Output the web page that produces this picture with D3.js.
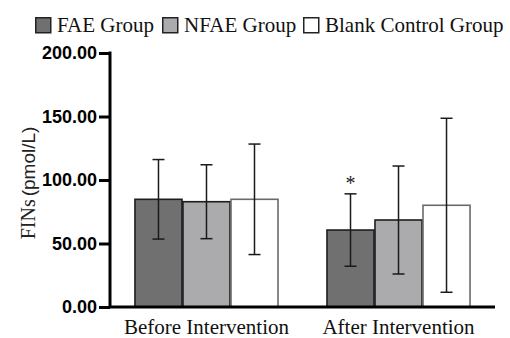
<!DOCTYPE html>
<html>
<head>
<meta charset="utf-8">
<script src="https://cdn.jsdelivr.net/npm/d3@7"></script>
<style>
  html, body { margin: 0; padding: 0; background: #fff; }
  svg { display: block; }
</style>
</head>
<body>
<svg id="chart" width="510" height="338"></svg>
<script>
// Fasting insulin by group, before and after the intervention
const timepoints = ["Before Intervention", "After Intervention"];
const groups = ["FAE Group", "NFAE Group", "Blank Control Group"];
const meanValues = [
  [84.8, 82.9, 84.8],   // Before Intervention
  [60.6, 68.5, 80.1]    // After Intervention
];
const sdValues = [
  [31.3, 29.1, 43.5],
  [28.5, 42.5, 68.5]
];
const yTicks = [0, 50, 100, 150, 200];
const groupColors = ["#707070", "#ababad", "#ffffff"];
const groupStrokes = ["#1e1e1e", "#1e1e1e", "#6a6a6a"];
const significance = [["", "", ""], ["*", "", ""]];

const svg = d3.select("#chart");
const margin = { left: 110, right: 15, top: 53, bottom: 31 };
const W = 510, H = 338;
const plotBottom = H - margin.bottom;

const y = d3.scaleLinear().domain([0, 200]).range([plotBottom, margin.top]);
const x0 = d3.scaleBand().domain(timepoints)
  .range([margin.left, W - margin.right])
  .paddingInner(0.255).paddingOuter(0.13);
const x1 = d3.scaleBand().domain(groups)
  .range([0, x0.bandwidth()]).paddingInner(0.02);

// Bars
const tp = svg.selectAll("g.tp").data(timepoints).join("g")
  .attr("class", "tp")
  .attr("transform", d => `translate(${x0(d)},0)`);

tp.each(function (t, ti) {
  const g = d3.select(this);
  const rows = groups.map((name, gi) => ({
    name, gi, mean: meanValues[ti][gi], sd: sdValues[ti][gi], sig: significance[ti][gi]
  }));

  g.selectAll("rect").data(rows).join("rect")
    .attr("x", d => x1(d.name))
    .attr("y", d => y(d.mean))
    .attr("width", x1.bandwidth())
    .attr("height", d => y(0) - y(d.mean))
    .attr("fill", d => groupColors[d.gi])
    .attr("stroke", d => groupStrokes[d.gi])
    .attr("stroke-width", 1.6);

  // Error bars (mean ± SD)
  const eb = g.selectAll("g.err").data(rows).join("g").attr("class", "err")
    .attr("stroke", "#1a1a1a").attr("stroke-width", 1.5);
  const cx = d => x1(d.name) + x1.bandwidth() / 2;
  eb.append("line")
    .attr("x1", cx).attr("x2", cx)
    .attr("y1", d => y(d.mean + d.sd)).attr("y2", d => y(d.mean - d.sd));
  eb.append("line")
    .attr("x1", d => cx(d) - 6).attr("x2", d => cx(d) + 6)
    .attr("y1", d => y(d.mean + d.sd)).attr("y2", d => y(d.mean + d.sd));
  eb.append("line")
    .attr("x1", d => cx(d) - 6).attr("x2", d => cx(d) + 6)
    .attr("y1", d => y(d.mean - d.sd)).attr("y2", d => y(d.mean - d.sd));

  g.selectAll("text.sig").data(rows.filter(d => d.sig)).join("text")
    .attr("class", "sig")
    .attr("x", cx)
    .attr("y", d => y(d.mean + d.sd) - 4)
    .attr("text-anchor", "middle")
    .attr("font-family", "Liberation Serif, serif")
    .attr("font-size", 20)
    .attr("fill", "#222")
    .text(d => d.sig);
});

// Y axis
const yAxis = d3.axisLeft(y).tickValues(yTicks).tickFormat(d3.format(".2f"))
  .tickSize(11).tickPadding(2);
const ya = svg.append("g").attr("transform", `translate(${margin.left},0)`).call(yAxis);
ya.select(".domain").attr("stroke", "#000").attr("stroke-width", 3)
  .attr("d", `M0,${y(200) - 1.5}V${plotBottom}`);
ya.selectAll(".tick line").attr("stroke", "#000").attr("stroke-width", 3);
ya.selectAll(".tick text")
  .attr("font-family", "Liberation Sans, Arial, sans-serif")
  .attr("font-weight", "bold").attr("font-size", 18).attr("fill", "#000");

// X axis baseline and labels
const xAxis = d3.axisBottom(x0).tickSize(0).tickPadding(12);
const xa = svg.append("g").attr("transform", `translate(0,${plotBottom})`).call(xAxis);
xa.select(".domain").attr("stroke", "#000").attr("stroke-width", 3)
  .attr("d", `M${margin.left},0H${W - margin.right}`);
xa.selectAll(".tick text")
  .attr("font-family", "Liberation Serif, Times New Roman, serif")
  .attr("font-size", 21).attr("fill", "#111");

// Y axis title
const yt = svg.append("text")
  .attr("transform", `translate(35,183) rotate(-90)`)
  .attr("text-anchor", "middle")
  .attr("fill", "#222");
yt.append("tspan").attr("font-family", "Liberation Serif, serif").attr("font-size", 20).text("FINs");
yt.append("tspan").attr("font-family", "Liberation Sans, Arial, sans-serif").attr("font-size", 19)
  .attr("dx", 3).text("(pmol/L)");

// Legend
const legendX = [35, 162, 303];
const lg = svg.append("g").selectAll("g").data(groups).join("g")
  .attr("transform", (d, i) => `translate(${legendX[i]},17)`);
lg.append("rect").attr("x", 0.75).attr("y", 0.75).attr("width", 15).attr("height", 15)
  .attr("fill", (d, i) => groupColors[i]).attr("stroke", "#222").attr("stroke-width", 1.5);
lg.append("text").attr("x", 22).attr("y", 14.5)
  .attr("font-family", "Liberation Serif, Times New Roman, serif")
  .attr("font-size", 21).attr("fill", "#111")
  .text(d => d);
</script>
</body>
</html>
